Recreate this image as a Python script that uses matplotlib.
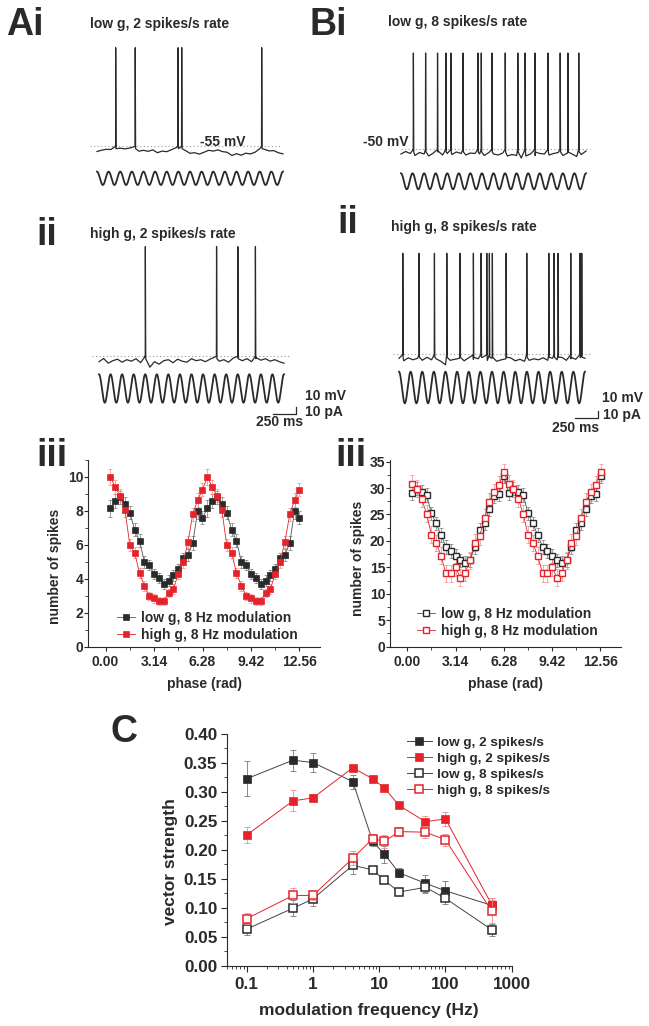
import numpy as np
import matplotlib
matplotlib.use("Agg")
import matplotlib.pyplot as plt
from matplotlib.ticker import MultipleLocator, FixedLocator, NullFormatter, LogLocator

plt.rcParams['font.family'] = ['Liberation Sans', 'DejaVu Sans']
plt.rcParams['font.weight'] = 'bold'
plt.rcParams['axes.labelweight'] = 'bold'

# ---------------- data ----------------
# voltage traces (baseline samples every 50 ms, mV) and spike times (s)
sample_dt = 0.05
ai_v = [-60.8, -59.5, -58.6, -58.8, -56.0, -57.5, -58.2, -57.4, -56.0, -60.5, -59.6,
        -60.6, -59.2, -62.0, -60.4, -61.0, -59.0, -57.0, -56.5, -59.8, -62.6, -62.0,
        -63.4, -61.6, -59.6, -60.4, -59.2, -60.9, -61.6, -64.8, -63.0, -64.5, -62.5,
        -63.2, -61.5, -58.0, -58.6, -60.2, -59.9, -62.0, -63.2]
ai_spikes = [0.20, 0.41, 0.87, 0.91, 1.77]
ai_peak = 43

aii_v = [-61.0, -57.8, -62.5, -60.0, -58.5, -61.5, -59.0, -60.5, -58.0, -62.0, -56.5,
         -66.5, -61.0, -63.5, -60.0, -59.0, -62.0, -58.5, -60.5, -61.5, -58.0, -60.0,
         -59.0, -61.0, -58.5, -56.5, -60.5, -59.0, -61.5, -57.5, -56.5, -60.0, -58.0,
         -61.0, -57.0, -59.5, -58.0, -60.5, -59.0, -61.0, -62.5]
aii_spikes = [0.50, 1.27, 1.50, 1.69]
aii_peak = 54

bi_v = [-55.0, -52.5, -54.5, -56.5, -53.5, -55.0, -57.0, -54.0, -52.0, -56.0, -54.5,
        -55.5, -53.0, -54.5, -56.0, -54.0, -54.5, -55.0, -56.5, -53.5, -55.0, -56.0,
        -54.0, -57.0, -55.5, -56.5, -59.0, -57.0, -55.0, -56.5, -54.5, -55.0, -56.0,
        -54.5, -53.5, -56.5, -54.0, -55.0, -57.5, -55.5, -52.0]
bi_spikes = [0.133, 0.265, 0.394, 0.484, 0.538, 0.670, 0.831, 0.867, 0.982, 1.126,
             1.262, 1.341, 1.448, 1.588, 1.720, 1.803, 1.921]
bi_peak = 46

bii_v = [-54.0, -56.5, -53.5, -55.5, -54.0, -56.0, -53.0, -55.5, -54.5, -57.0, -60.5,
         -56.0, -55.0, -54.0, -56.5, -53.5, -55.0, -54.5, -53.0, -56.0, -54.0, -57.0,
         -55.5, -54.5, -53.5, -56.5, -55.0, -57.0, -56.0, -54.5, -55.5, -53.5, -56.0,
         -54.0, -55.5, -53.0, -56.0, -54.5, -55.0, -53.5, -54.0]
bii_spikes = [0.04, 0.215, 0.38, 0.513, 0.656, 0.799, 0.882, 0.943, 0.971, 1.003,
              1.151, 1.373, 1.610, 1.667, 1.710, 1.846, 1.946, 1.964]
bii_peak = 51

# sinusoidal current stimulus: 8 Hz, 2 s, amplitude (pA)
stim_freq_hz = 8
stim_dur_s = 2.0
ai_amp, aii_amp, bi_amp, bii_amp = 6.7, 14.2, 8.0, 15.8

# phase histograms (phase in rad, 20 bins per cycle, two cycles shown)
phase = [0.31, 0.63, 0.94, 1.26, 1.57, 1.88, 2.20, 2.51, 2.83, 3.14,
         3.46, 3.77, 4.08, 4.40, 4.71, 5.03, 5.34, 5.65, 5.97, 6.28,
         6.60, 6.91, 7.23, 7.54, 7.85, 8.17, 8.48, 8.80, 9.11, 9.42,
         9.74, 10.05, 10.37, 10.68, 11.00, 11.31, 11.62, 11.94, 12.25, 12.57]
a_low = [8.15, 8.6, 8.8, 8.4, 7.9, 6.9, 6.25, 5.0, 4.8, 4.3, 4.05, 3.7, 3.9, 4.2, 4.55, 5.2, 5.4, 6.1, 8.0, 7.6,
         8.15, 8.6, 8.8, 8.4, 7.9, 6.9, 6.25, 5.0, 4.8, 4.3, 4.05, 3.7, 3.9, 4.2, 4.55, 5.2, 5.4, 6.1, 8.0, 7.6]
a_low_err = [0.5, 0.4, 0.4, 0.4, 0.4, 0.4, 0.4, 0.35, 0.3, 0.3, 0.3, 0.3, 0.3, 0.3, 0.3, 0.35, 0.35, 0.4, 0.45, 0.4] * 2
a_high = [10.0, 9.4, 8.9, 8.05, 6.0, 5.55, 4.35, 3.6, 3.0, 2.85, 2.7, 2.7, 3.15, 3.4, 4.3, 5.0, 6.15, 7.8, 8.65, 9.25,
          10.0, 9.4, 8.9, 8.05, 6.0, 5.55, 4.35, 3.6, 3.0, 2.85, 2.7, 2.7, 3.15, 3.4, 4.3, 5.0, 6.15, 7.8, 8.65, 9.25]
a_high_err = [0.45, 0.4, 0.4, 0.4, 0.35, 0.35, 0.3, 0.3, 0.25, 0.25, 0.25, 0.25, 0.25, 0.3, 0.3, 0.35, 0.35, 0.4, 0.4, 0.4] * 2
b_low = [29.1, 29.9, 29.2, 28.75, 25.2, 23.3, 21.1, 18.9, 18.1, 17.1, 16.3, 15.8, 16.4, 18.8, 22.0, 23.3, 26.1, 28.5, 28.9, 32.2,
         29.1, 29.9, 29.2, 28.75, 25.2, 23.3, 21.1, 18.9, 18.1, 17.1, 16.3, 15.8, 16.4, 18.8, 22.0, 23.3, 26.1, 28.5, 28.9, 32.2]
b_low_err = [1.3] * 40
b_high = [30.8, 29.9, 28.0, 25.1, 21.2, 19.6, 17.2, 13.9, 13.9, 15.0, 13.0, 14.0, 16.3, 19.7, 20.9, 24.4, 27.4, 29.2, 30.6, 33.0,
          30.8, 29.9, 28.0, 25.1, 21.2, 19.6, 17.2, 13.9, 13.9, 15.0, 13.0, 14.0, 16.3, 19.7, 20.9, 24.4, 27.4, 29.2, 30.6, 33.0]
b_high_err = [1.6] * 40
phase_ticks = [0.0, 3.14159, 6.28319, 9.42478, 12.56637]
phase_ticklabels = ['0.00', '3.14', '6.28', '9.42', '12.56']

# vector strength vs modulation frequency
freq = [0.1, 0.5, 1, 4, 8, 12, 20, 50, 100, 500]
vs_low2 = [0.322, 0.354, 0.350, 0.317, 0.214, 0.192, 0.160, 0.142, 0.129, 0.104]
vs_low2_err = [0.030, 0.018, 0.016, 0.012, 0.008, 0.015, 0.008, 0.015, 0.017, 0.012]
vs_high2 = [0.225, 0.284, 0.289, 0.341, 0.322, 0.306, 0.276, 0.248, 0.253, 0.105]
vs_high2_err = [0.014, 0.018, 0.006, 0.005, 0.005, 0.005, 0.005, 0.010, 0.012, 0.012]
vs_low8 = [0.063, 0.099, 0.115, 0.173, 0.165, 0.147, 0.127, 0.135, 0.116, 0.062]
vs_low8_err = [0.010, 0.014, 0.012, 0.015, 0.005, 0.005, 0.004, 0.010, 0.010, 0.010]
vs_high8 = [0.081, 0.121, 0.121, 0.185, 0.219, 0.214, 0.231, 0.230, 0.217, 0.094]
vs_high8_err = [0.010, 0.013, 0.008, 0.012, 0.008, 0.012, 0.008, 0.010, 0.010, 0.020]

# ---------------- style ----------------
W, H = 649, 1026
K = '#2a2a2a'
RED = '#e5232a'
fig = plt.figure(figsize=(W / 100, H / 100), dpi=100)


def ax_px(x0, y0, x1, y1):
    return fig.add_axes([x0 / W, 1 - y1 / H, (x1 - x0) / W, (y1 - y0) / H])


def ftext(x, y, s, **kw):
    kw.setdefault('color', K)
    kw.setdefault('fontweight', 'bold')
    return fig.text(x / W, 1 - y / H, s, **kw)


def trace_panel(x0, x1, ref_y, vref, v, spikes, peak, amp, stim_off, dot_ext):
    # 1 px per mV vertically
    top, bot = 110, 70
    ax = ax_px(x0, ref_y - top, x1, ref_y + bot)
    ax.set_xlim(0, stim_dur_s)
    ax.set_ylim(vref - bot, vref + top)
    ax.axis('off')
    t = np.arange(len(v)) * sample_dt
    pts = list(zip(t, v))
    for ts in spikes:
        pts += [(ts - 0.001, vref - 0.5), (ts + 0.001, peak), (ts + 0.005, vref - 3)]
    pts.sort()
    tt, vv = zip(*pts)
    ax.plot(dot_ext, [vref, vref], color='#9a9a9a', lw=0.8, ls=(0, (1, 2.2)), clip_on=False)
    ax.plot(tt, vv, color=K, lw=0.9, clip_on=False)
    ts = np.linspace(0, stim_dur_s, 800)
    ax.plot(ts, vref - stim_off + amp * np.cos(2 * np.pi * stim_freq_hz * ts), color=K, lw=1.3,
            clip_on=False)
    return ax


def scalebar(ax, t_end, y_base):
    ax.plot([t_end - 0.25, t_end, t_end], [y_base, y_base, y_base + 7], color=K, lw=0.9,
            clip_on=False)


# panel A
axAi = trace_panel(97, 283, 145.7, -55, ai_v, ai_spikes, ai_peak, ai_amp, 32.6, [-0.07, 1.99])
axAii = trace_panel(99, 284, 355.7, -55, aii_v, aii_spikes, aii_peak, aii_amp, 32.8, [-0.08, 2.06])
scalebar(axAii, 2.135, -55 - 58.3)
# panel B
axBi = trace_panel(401, 586, 149.0, -50, bi_v, bi_spikes, bi_peak, bi_amp, 32.3, [0.0, 2.04])
axBii = trace_panel(399, 585, 354.3, -50, bii_v, bii_spikes, bii_peak, bii_amp, 33.2, [-0.065, 2.06])
scalebar(axBii, 2.14, -50 - 64.0)

# labels / titles
PL = 27
ftext(6, 35, 'Ai', fontsize=PL, va='baseline')
ftext(309, 35, 'Bi', fontsize=PL, va='baseline')
ftext(36, 245, 'ii', fontsize=PL, va='baseline')
ftext(337, 233, 'ii', fontsize=PL, va='baseline')
ftext(36, 466, 'iii', fontsize=PL, va='baseline')
ftext(335, 466, 'iii', fontsize=PL, va='baseline')
ftext(111, 742, 'C', fontsize=PL, va='baseline')

TF = 10
ftext(90, 24, 'low g, 2 spikes/s rate', fontsize=TF, va='center')
ftext(388, 22, 'low g, 8 spikes/s rate', fontsize=TF, va='center')
ftext(90, 234, 'high g, 2 spikes/s rate', fontsize=TF, va='center')
ftext(391, 227, 'high g, 8 spikes/s rate', fontsize=TF, va='center')
ftext(200, 141.7, '-55 mV', fontsize=TF, va='center')
ftext(363, 142, '-50 mV', fontsize=TF, va='center')
ftext(305, 396, '10 mV', fontsize=TF, va='center')
ftext(305, 412, '10 pA', fontsize=TF, va='center')
ftext(279.5, 422, '250 ms', fontsize=TF, va='center', ha='center')
ftext(602, 397.7, '10 mV', fontsize=TF, va='center')
ftext(603, 415, '10 pA', fontsize=TF, va='center')
ftext(576, 428, '250 ms', fontsize=TF, va='center', ha='center')


def style_axes(ax, fs, major_len=3.5, minor_len=2.2, pad=3, ypad=1.0):
    for s in ('top', 'right'):
        ax.spines[s].set_visible(False)
    for s in ('left', 'bottom'):
        ax.spines[s].set_color(K)
        ax.spines[s].set_linewidth(0.8)
    ax.tick_params(which='major', direction='out', length=major_len, width=0.8, color=K,
                   labelsize=fs, labelcolor=K, pad=pad)
    ax.tick_params(axis='y', which='major', pad=ypad)
    ax.tick_params(which='minor', direction='out', length=minor_len, width=0.6, color=K)
    for lab in ax.get_xticklabels() + ax.get_yticklabels():
        lab.set_fontweight('bold')


def phase_panel(x0, x1, ylim, ymaj, ymin, low, low_err, high, high_err, open_marker,
                ylab_x, ylab_y, leg_x, leg_y):
    ax = ax_px(x0, 460, x1, 646.7)
    ax.set_xlim(-1.12, 13.9)
    ax.set_ylim(*ylim)
    ms = 5.0 if open_marker else 4.7
    fc_low = 'white' if open_marker else K
    fc_high = 'white' if open_marker else RED
    ax.errorbar(phase, low, yerr=low_err, fmt='none', ecolor='#777777', elinewidth=0.5,
                capsize=1.5, capthick=0.5)
    ax.errorbar(phase, high, yerr=high_err, fmt='none', ecolor='#f08a8c', elinewidth=0.5,
                capsize=1.5, capthick=0.5)
    l1, = ax.plot(phase, low, '-s', color='#555555', lw=0.6, ms=ms, mfc=fc_low, mec=K,
                  mew=1.0 if open_marker else 0.5, label='low g, 8 Hz modulation')
    l2, = ax.plot(phase, high, '-s', color=RED, lw=0.6, ms=ms, mfc=fc_high, mec=RED,
                  mew=1.0 if open_marker else 0.5, label='high g, 8 Hz modulation', alpha=1)
    ax.xaxis.set_major_locator(FixedLocator(phase_ticks))
    ax.set_xticklabels(phase_ticklabels)
    ax.xaxis.set_minor_locator(FixedLocator([1.5708, 4.7124, 7.854, 10.9956]))
    ax.yaxis.set_major_locator(MultipleLocator(ymaj))
    ax.yaxis.set_minor_locator(MultipleLocator(ymin))
    style_axes(ax, 10, major_len=2.8, ypad=0.6)
    ax.set_xlabel('phase (rad)', fontsize=10, color=K)
    ax.set_ylabel('number of spikes', fontsize=10, color=K)
    w = x1 - x0
    ax.yaxis.set_label_coords((ylab_x - x0) / w, ylab_y)
    ax.xaxis.set_label_coords(0.5, (646.7 - 677) / 186.7)
    ax.legend(handles=[l1, l2], loc='upper left', bbox_to_anchor=(leg_x / W, 1 - leg_y / H),
              bbox_transform=fig.transFigure, frameon=False, fontsize=10, handlelength=1.3,
              handletextpad=0.4, labelspacing=0.22, borderpad=0, borderaxespad=0,
              labelcolor=K, prop={'weight': 'bold', 'size': 10})
    return ax


axAiii = phase_panel(88.3, 320, (0, 11), 2, 1, a_low, a_low_err, a_high, a_high_err, False,
                     61.7, 0.43, 117, 611)
axBiii = phase_panel(390, 621, (0, 35.3), 5, 2.5, b_low, b_low_err, b_high, b_high_err, True,
                     365, 0.475, 417, 607)

# panel C
axC = ax_px(226.7, 733.5, 511.7, 965.7)
axC.set_xscale('log')
axC.set_xlim(0.05, 1000)
axC.set_ylim(0, 0.40)
series = [
    (vs_low2, vs_low2_err, K, K, '#777777', 'low g, 2 spikes/s', '#444444'),
    (vs_high2, vs_high2_err, RED, RED, '#f08a8c', 'high g, 2 spikes/s', RED),
    (vs_low8, vs_low8_err, 'white', K, '#777777', 'low g, 8 spikes/s', '#444444'),
    (vs_high8, vs_high8_err, 'white', RED, '#f08a8c', 'high g, 8 spikes/s', RED),
]
handles = []
for y, e, fc, ec, ecol, lab, lc in series:
    axC.errorbar(freq, y, yerr=e, fmt='none', ecolor=ecol, elinewidth=0.6, capsize=2,
                 capthick=0.6)
    h, = axC.plot(freq, y, '-s', color=lc, lw=0.7, ms=5.6, mfc=fc, mec=ec,
                  mew=1.1 if fc == 'white' else 0.5, label=lab)
    handles.append(h)
axC.xaxis.set_major_locator(FixedLocator([0.1, 1, 10, 100, 1000]))
axC.set_xticklabels(['0.1', '1', '10', '100', '1000'])
axC.xaxis.set_minor_locator(LogLocator(base=10, subs=np.arange(2, 10), numticks=20))
axC.xaxis.set_minor_formatter(NullFormatter())
axC.yaxis.set_major_locator(MultipleLocator(0.05))
axC.yaxis.set_minor_locator(MultipleLocator(0.025))
axC.yaxis.set_major_formatter(matplotlib.ticker.FormatStrFormatter('%.2f'))
style_axes(axC, 12.3, major_len=4.5, minor_len=2.5, pad=3.5, ypad=2.3)
axC.set_xlabel('modulation frequency (Hz)', fontsize=12.5, color=K)
axC.set_ylabel('vector strength', fontsize=12.5, color=K)
axC.yaxis.set_label_coords((178.3 - 226.7) / 285, 0.45)
axC.xaxis.set_label_coords(0.5, (965.7 - 1003) / 232.2)
axC.legend(handles=handles, loc='upper left', bbox_to_anchor=(407 / W, 1 - 736.5 / H),
           bbox_transform=fig.transFigure, frameon=False, handlelength=1.85,
           handletextpad=0.35, labelspacing=0.26, borderpad=0, borderaxespad=0,
           labelcolor=K, prop={'weight': 'bold', 'size': 9.7})

fig.savefig('out.png', dpi=100)
